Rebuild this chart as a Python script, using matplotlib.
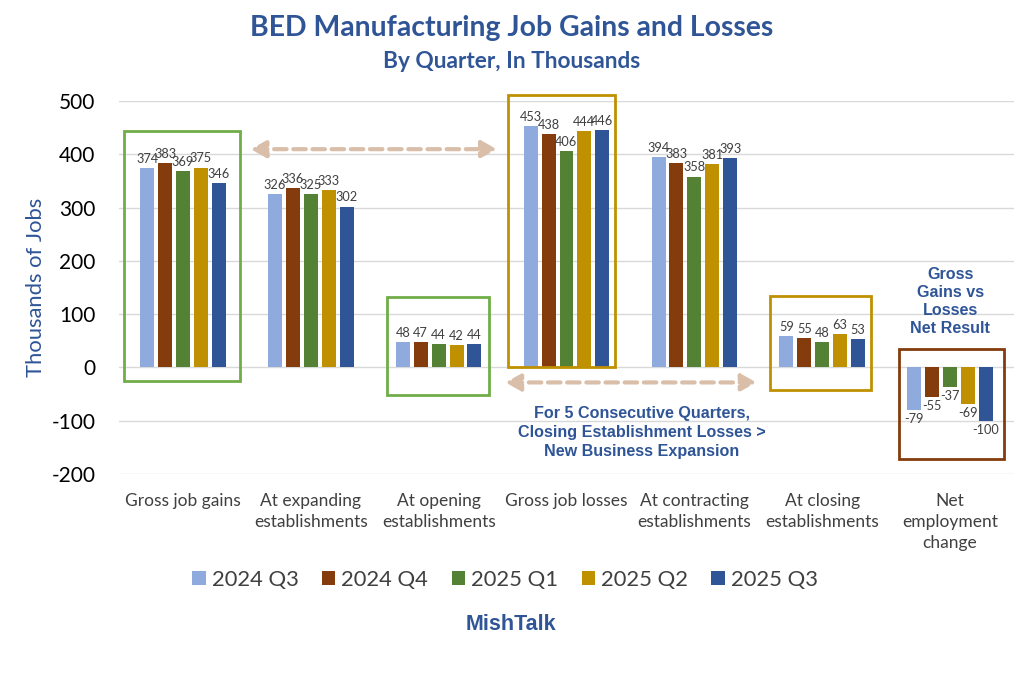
import matplotlib
matplotlib.use("Agg")
import matplotlib.pyplot as plt
from matplotlib.patches import Rectangle, FancyArrowPatch
import numpy as np

categories = ["Gross job gains", "At expanding\nestablishments", "At opening\nestablishments",
              "Gross job losses", "At contracting\nestablishments", "At closing\nestablishments",
              "Net\nemployment\nchange"]
series_names = ["2024 Q3", "2024 Q4", "2025 Q1", "2025 Q2", "2025 Q3"]
q2024_3 = [374, 326, 48, 453, 394, 59, -79]
q2024_4 = [383, 336, 47, 438, 383, 55, -55]
q2025_1 = [369, 325, 44, 406, 358, 48, -37]
q2025_2 = [375, 333, 42, 444, 381, 63, -69]
q2025_3 = [346, 302, 44, 446, 393, 53, -100]
series = [q2024_3, q2024_4, q2025_1, q2025_2, q2025_3]
colors = ["#8FAADC", "#843C0C", "#548235", "#BF9000", "#2F5597"]
yticks = [-200, -100, 0, 100, 200, 300, 400, 500]

BLUE = "#2F5597"
GRAY = "#404040"

fig = plt.figure(figsize=(10.24, 6.74), dpi=100)
ax = fig.add_axes([119/1024, 1-474/674, (1014-119)/1024, (474-101)/674])

x = np.arange(len(categories))
pitch = 0.14
width = 0.109
for i, (vals, col, name) in enumerate(zip(series, colors, series_names)):
    xs = x + (i - 2) * pitch
    ax.bar(xs, vals, width=width, color=col, label=name, zorder=3)
    for xx, v in zip(xs, vals):
        if v >= 0:
            ax.text(xx, v + 6, str(v), ha="center", va="bottom", fontsize=9.2, color=GRAY,
                    family="Lato", zorder=4)
        else:
            ax.text(xx, v - 6, str(v), ha="center", va="top", fontsize=9.2, color=GRAY,
                    family="Lato", zorder=4)

ax.set_xlim(-0.5, len(categories) - 0.5)
ax.set_ylim(-200, 500)
ax.set_yticks(yticks)
ax.set_yticklabels([str(t) for t in yticks], fontsize=15, family="Lato", color="black")
ax.tick_params(axis="y", length=0, pad=17)
ax.set_xticks(x)
ax.set_xticklabels(categories, fontsize=12.5, family="Lato", color=GRAY, linespacing=1.35)
ax.tick_params(axis="x", length=0, pad=14)
ax.grid(axis="y", color="#D9D9D9", linewidth=1, zorder=0)
for s in ax.spines.values():
    s.set_visible(False)
ax.set_ylabel("Thousands of Jobs", fontsize=15.8, color=BLUE, family="Lato", labelpad=4)

# boxes
boxes = [(-0.461, -26.3, 0.445, 443.6, "#70AD47"),
         (1.594, -52.6, 2.391, 131.6, "#70AD47"),
         (2.539, 0, 3.383, 511, "#BF9000"),
         (4.594, -43.2, 5.383, 133.4, "#BF9000"),
         (5.602, -171, 6.422, 33.8, "#843C0C")]
for x0, y0, x1, y1, c in boxes:
    ax.add_patch(Rectangle((x0, y0), x1 - x0, y1 - y0, fill=False, edgecolor=c,
                           linewidth=2, clip_on=False, zorder=5))

# arrows
for (xa, xb, ya) in [(0.508, 2.477, 409.6), (2.5, 4.508, -28.2)]:
    ar = FancyArrowPatch((xa, ya), (xb, ya), arrowstyle="<|-|>,head_length=9,head_width=5",
                         color="#D9BFA9", linewidth=3, linestyle=(0, (3, 1.6)),
                         mutation_scale=1, clip_on=False, zorder=5)
    ax.add_patch(ar)

ax.text(3.59, -72, "For 5 Consecutive Quarters,\nClosing Establishment Losses >\nNew Business Expansion",
        ha="center", va="top", fontsize=11.6, fontweight="bold", color=BLUE,
        family="Liberation Sans", linespacing=1.33)
ax.text(6.0, 59, "Gross\nGains vs\nLosses\nNet Result", ha="center", va="bottom",
        fontsize=11.6, fontweight="bold", color=BLUE, family="Liberation Sans", linespacing=1.26)

fig.text(0.5, 1 - 28/674, "BED Manufacturing Job Gains and Losses", ha="center", va="center",
         fontsize=20.4, fontweight="bold", color=BLUE, family="Lato")
fig.text(0.5, 1 - 62/674, "By Quarter, In Thousands", ha="center", va="center",
         fontsize=16.3, fontweight="bold", color=BLUE, family="Lato")

leg = fig.legend(loc="center", bbox_to_anchor=(505/1024, 1 - 580/674), ncol=5, frameon=False,
                 prop={"family": "Lato", "size": 15.8}, handlelength=0.6, handleheight=0.6,
                 handletextpad=0.27, columnspacing=1.08)
for t in leg.get_texts():
    t.set_color(GRAY)

fig.text(511/1024, 1 - 625/674, "MishTalk", ha="center", va="center", fontsize=15.5,
         fontweight="bold", color=BLUE, family="Liberation Sans")

fig.savefig("out.png", dpi=100, facecolor="white")
